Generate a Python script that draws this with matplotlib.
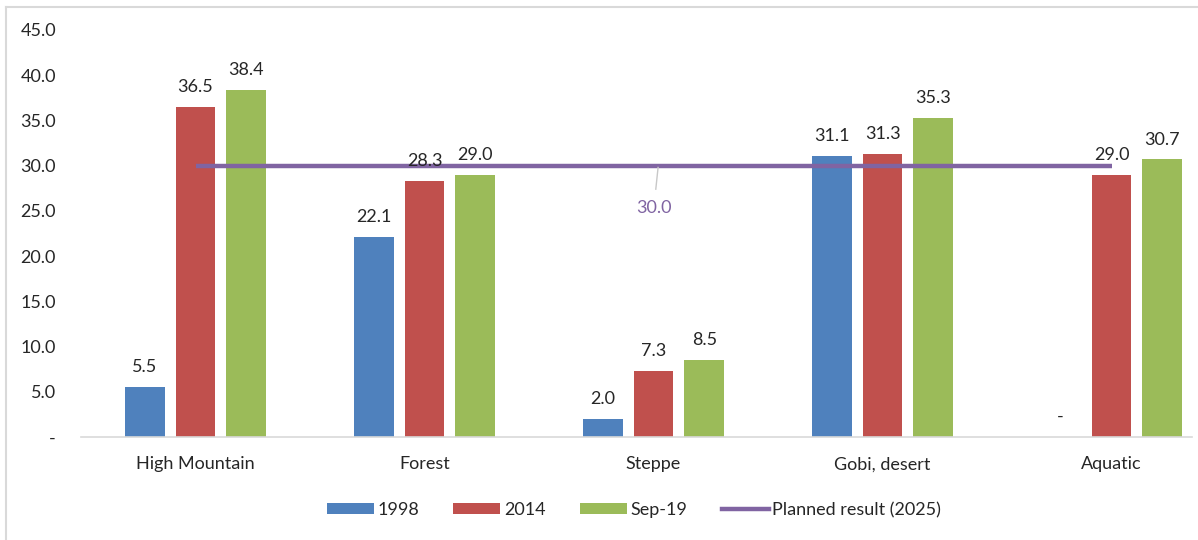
import numpy as np
import matplotlib.pyplot as plt
from matplotlib.lines import Line2D

plt.rcParams['font.family'] = ['Lato', 'DejaVu Sans']

categories = ["High Mountain", "Forest", "Steppe", "Gobi, desert", "Aquatic"]
v1998 = [5.5, 22.1, 2.0, 31.1, 0.0]
v2014 = [36.5, 28.3, 7.3, 31.3, 29.0]
vsep19 = [38.4, 29.0, 8.5, 35.3, 30.7]
planned = [30.0, 30.0, 30.0, 30.0, 30.0]
yticks = [0, 5, 10, 15, 20, 25, 30, 35, 40, 45]

c_blue = "#4F81BD"
c_red = "#C0504D"
c_green = "#9BBB59"
c_purple = "#8064A2"
txt = "#262626"
fs = 13

fig = plt.figure(figsize=(11.98, 5.4), dpi=100)
ax = fig.add_axes([81 / 1198, 103 / 540, (1192 - 81) / 1198, 407 / 540])

x = np.arange(len(categories))
w = 0.174
off = 0.222
series = [(v1998, c_blue, "1998", -off), (v2014, c_red, "2014", 0), (vsep19, c_green, "Sep-19", off)]
handles = []
for vals, col, lab, dx in series:
    bars = ax.bar(x + dx, vals, width=w, color=col, label=lab)
    handles.append(bars)
    for xi, v in zip(x + dx, vals):
        s = "-" if v == 0 else f"{v:.1f}"
        ax.text(xi, v + 1.3, s, ha="center", va="bottom", fontsize=fs, color=txt)

line, = ax.plot(x, planned, color=c_purple, lw=3.2, solid_capstyle="butt")
# data label for the planned line, with leader
ax.plot([2.02, 2.01], [29.8, 27.4], color="#c8c8c8", lw=1)
ax.text(2.0, 25.3, f"{planned[2]:.1f}", ha="center", va="center", fontsize=fs, color=c_purple)

ax.set_xlim(-0.5, 4.5 - (1226 - 1192) / 229)
ax.set_ylim(0, 45)
ax.set_xticks(x)
ax.set_xticklabels(categories, fontsize=fs, color=txt)
ax.set_yticks(yticks)
ax.set_yticklabels(["-"] + [f"{t:.1f}" for t in yticks[1:]], fontsize=fs, color=txt)
ax.tick_params(axis="both", length=0)
ax.tick_params(axis="y", pad=18)
ax.tick_params(axis="x", pad=14)
for s in ["top", "right", "left"]:
    ax.spines[s].set_visible(False)
ax.spines["bottom"].set_color("#d9d9d9")
ax.spines["bottom"].set_linewidth(1.2)

leg_line = Line2D([], [], color=c_purple, lw=3.2)
fig.legend(handles + [leg_line], ["1998", "2014", "Sep-19", "Planned result (2025)"],
           loc="center", bbox_to_anchor=(634 / 1198, 1 - 510 / 540), ncol=4, frameon=False,
           fontsize=fs, handlelength=2.6, handleheight=0.6, columnspacing=1.9, handletextpad=0.2,
           labelcolor=txt)

# outer chart border (top and left edges)
fig.add_artist(Line2D([6 / 1198, 1], [1 - 7 / 540, 1 - 7 / 540], color="#d9d9d9", lw=1.5))
fig.add_artist(Line2D([6 / 1198, 6 / 1198], [0, 1 - 7 / 540], color="#d9d9d9", lw=1.5))

fig.savefig("out.png", dpi=100)
